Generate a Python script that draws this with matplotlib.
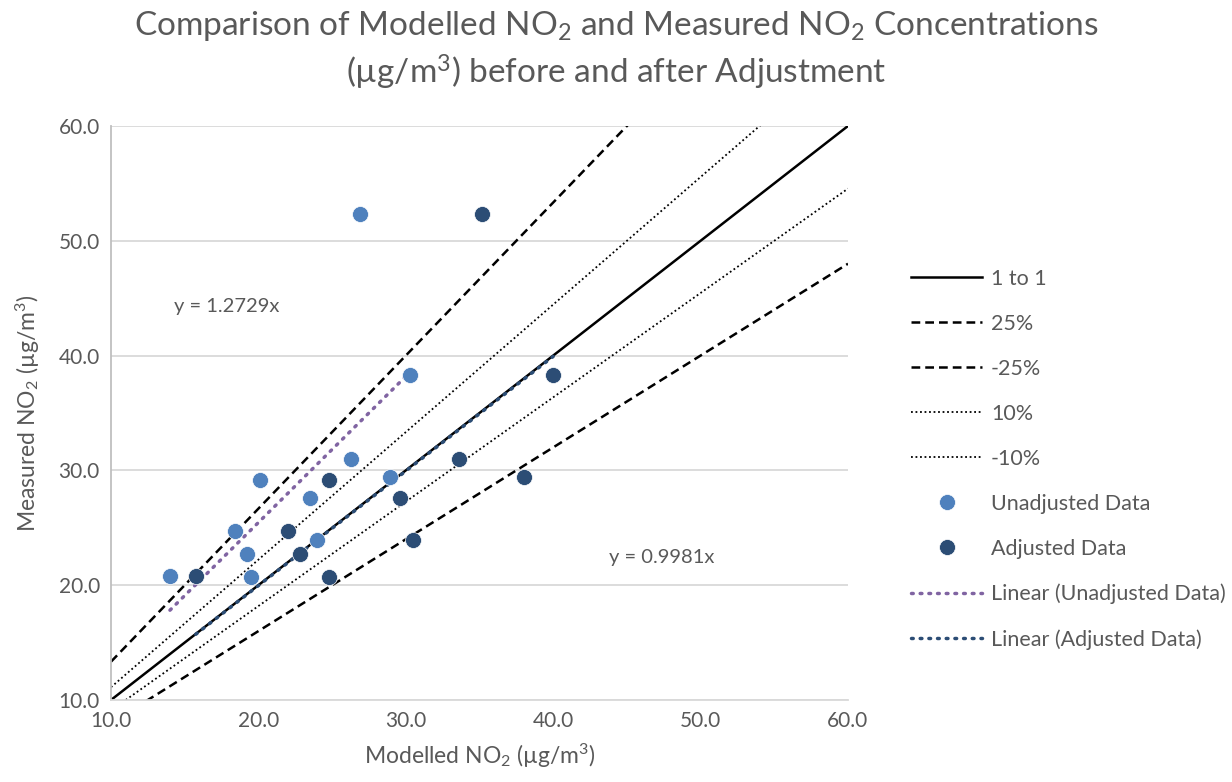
import numpy as np
import matplotlib
matplotlib.use("Agg")
from matplotlib import pyplot as plt

plt.rcParams['font.family'] = ['Lato', 'DejaVu Sans']
plt.rcParams['mathtext.fontset'] = 'custom'
plt.rcParams['mathtext.rm'] = 'Lato'
plt.rcParams['mathtext.it'] = 'Lato:italic'
plt.rcParams['mathtext.bf'] = 'Lato:bold'

# data
measured = [20.8, 24.7, 22.7, 20.7, 29.2, 27.6, 23.9, 31.0, 29.4, 38.3, 52.3]
modelled_unadj = [14.0, 18.4, 19.2, 19.5, 20.1, 23.5, 24.0, 26.3, 28.9, 30.3, 26.9]
modelled_adj = [15.75, 22.0, 22.8, 24.8, 24.8, 29.6, 30.5, 33.6, 38.0, 40.0, 35.2]

slope_unadj = 1.2729
slope_adj = 0.9981

# reference line factors (measured = modelled / factor)
ref_names = ['1 to 1', '25%', '-25%', '10%', '-10%']
ref_factors = [1.0, 0.75, 1.25, 0.9, 1.1]

grey = '#595959'
light_blue = '#4F81BD'
dark_blue = '#2C4D75'
purple = '#8064A2'

fig = plt.figure(figsize=(12.32, 7.82), dpi=100)
ax = fig.add_axes([0.0901, 0.1049, 0.5982, 0.734])

xx = np.array([10.0, 60.0])
styles = {
    '1 to 1': dict(ls='-', lw=1.8),
    '25%': dict(ls=(0, (3.5, 2)), lw=1.8),
    '-25%': dict(ls=(0, (3.5, 2)), lw=1.8),
    '10%': dict(ls=(0, (1, 1.5)), lw=1.3),
    '-10%': dict(ls=(0, (1, 1.5)), lw=1.3),
}
handles = []
for name, f in zip(ref_names, ref_factors):
    h, = ax.plot(xx, xx / f, color='black', label=name, zorder=2, **styles[name])
    handles.append(h)

h1, = ax.plot(modelled_unadj, measured, 'o', color=light_blue, ms=11.5,
              mec='white', mew=0.5, label='Unadjusted Data', zorder=4)
h2, = ax.plot(modelled_adj, measured, 'o', color=dark_blue, ms=11.5,
              mec='white', mew=0.5, label='Adjusted Data', zorder=4)

# trendlines through the origin, over the range of each series
xu = np.array([min(modelled_unadj), max(modelled_unadj)])
xa = np.array([min(modelled_adj), max(modelled_adj)])
h3, = ax.plot(xu, slope_unadj * xu, color=purple, lw=2.5,
              ls=(0, (0.5, 2)), dash_capstyle='round',
              label='Linear (Unadjusted Data)', zorder=3)
h4, = ax.plot(xa, slope_adj * xa, color=dark_blue, lw=2.5,
              ls=(0, (0.5, 2)), dash_capstyle='round',
              label='Linear (Adjusted Data)', zorder=3)
handles += [h1, h2, h3, h4]

ax.text(14.3, 44.3, 'y = 1.2729x', fontsize=14.5, color=grey, va='center')
ax.text(43.8, 22.4, 'y = 0.9981x', fontsize=14.5, color=grey, va='center')

ax.set_xlim(10, 60)
ax.set_ylim(10, 60)
ax.set_xticks(np.arange(10, 61, 10))
ax.set_yticks(np.arange(10, 61, 10))
ax.set_xticklabels([f'{v:.1f}' for v in range(10, 61, 10)])
ax.set_yticklabels([f'{v:.1f}' for v in range(10, 61, 10)])
ax.tick_params(colors=grey, labelsize=15, length=0, pad=8)
ax.grid(axis='y', color='#D9D9D9', lw=1.3)
ax.set_axisbelow(True)
for s in ['top', 'right']:
    ax.spines[s].set_visible(False)
ax.spines['left'].set_color('#BFBFBF')
ax.spines['bottom'].set_color('#D9D9D9')
ax.spines['left'].set_linewidth(1.3)
ax.spines['bottom'].set_linewidth(1.3)

ax.set_xlabel('Modelled NO$_2$ (µg/m$^3$)', fontsize=16.5, color=grey, labelpad=8)
ax.set_ylabel('Measured NO$_2$ (µg/m$^3$)', fontsize=16.5, color=grey, labelpad=12)

fig.suptitle('Comparison of Modelled NO$_2$ and Measured NO$_2$ Concentrations\n'
             '(µg/m$^3$) before and after Adjustment',
             fontsize=24, color=grey, x=0.5, y=0.988, va='top', linespacing=1.3)

leg = fig.legend(handles=handles, loc='upper left', bbox_to_anchor=(0.731, 0.67),
                 frameon=False, fontsize=15.5, handlelength=3.3, labelspacing=1.16,
                 handletextpad=0.4, borderpad=0)
for t in leg.get_texts():
    t.set_color(grey)

fig.savefig('out.png', dpi=100)
